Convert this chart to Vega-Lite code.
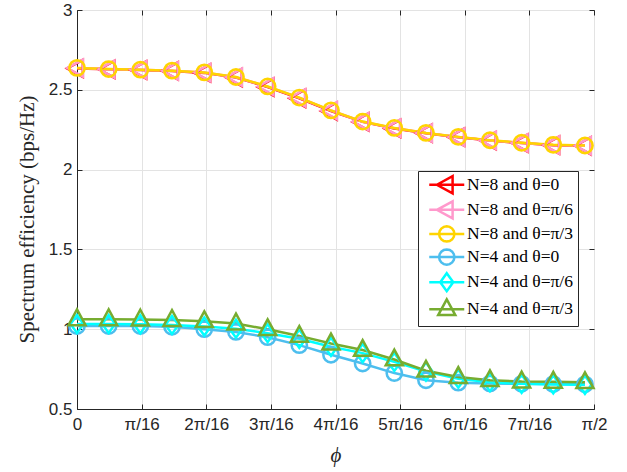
{
  "$schema": "https://vega.github.io/schema/vega-lite/v6.json",
  "width": 517,
  "height": 399,
  "autosize": {"type": "none"},
  "padding": {"left": 77, "top": 10, "right": 33, "bottom": 63},
  "background": "white",
  "config": {
    "view": {"stroke": "#262626", "strokeWidth": 1},
    "axis": {
      "domainColor": "#262626",
      "tickColor": "#262626",
      "labelColor": "#262626",
      "titleColor": "#262626",
      "gridColor": "#e3e3e3",
      "gridWidth": 1,
      "labelFont": "Liberation Sans",
      "labelFontSize": 17
    }
  },
  "data": {
    "values": [
      {"s": "N=8 and θ=0", "phi": 0, "se": 2.634}, {"s": "N=8 and θ=0", "phi": 0.49, "se": 2.628}, {"s": "N=8 and θ=0", "phi": 0.98, "se": 2.624}, {"s": "N=8 and θ=0", "phi": 1.47, "se": 2.618}, {"s": "N=8 and θ=0", "phi": 1.97, "se": 2.606}, {"s": "N=8 and θ=0", "phi": 2.46, "se": 2.577}, {"s": "N=8 and θ=0", "phi": 2.95, "se": 2.517}, {"s": "N=8 and θ=0", "phi": 3.44, "se": 2.447}, {"s": "N=8 and θ=0", "phi": 3.93, "se": 2.367}, {"s": "N=8 and θ=0", "phi": 4.42, "se": 2.299}, {"s": "N=8 and θ=0", "phi": 4.91, "se": 2.258}, {"s": "N=8 and θ=0", "phi": 5.4, "se": 2.228}, {"s": "N=8 and θ=0", "phi": 5.9, "se": 2.203}, {"s": "N=8 and θ=0", "phi": 6.39, "se": 2.182}, {"s": "N=8 and θ=0", "phi": 6.88, "se": 2.166}, {"s": "N=8 and θ=0", "phi": 7.37, "se": 2.153}, {"s": "N=8 and θ=0", "phi": 7.86, "se": 2.149},
      {"s": "N=8 and θ=π/6", "phi": 0, "se": 2.636}, {"s": "N=8 and θ=π/6", "phi": 0.49, "se": 2.629}, {"s": "N=8 and θ=π/6", "phi": 0.98, "se": 2.625}, {"s": "N=8 and θ=π/6", "phi": 1.47, "se": 2.619}, {"s": "N=8 and θ=π/6", "phi": 1.97, "se": 2.608}, {"s": "N=8 and θ=π/6", "phi": 2.46, "se": 2.579}, {"s": "N=8 and θ=π/6", "phi": 2.95, "se": 2.52}, {"s": "N=8 and θ=π/6", "phi": 3.44, "se": 2.45}, {"s": "N=8 and θ=π/6", "phi": 3.93, "se": 2.37}, {"s": "N=8 and θ=π/6", "phi": 4.42, "se": 2.3}, {"s": "N=8 and θ=π/6", "phi": 4.91, "se": 2.26}, {"s": "N=8 and θ=π/6", "phi": 5.4, "se": 2.229}, {"s": "N=8 and θ=π/6", "phi": 5.9, "se": 2.204}, {"s": "N=8 and θ=π/6", "phi": 6.39, "se": 2.183}, {"s": "N=8 and θ=π/6", "phi": 6.88, "se": 2.167}, {"s": "N=8 and θ=π/6", "phi": 7.37, "se": 2.154}, {"s": "N=8 and θ=π/6", "phi": 7.86, "se": 2.15},
      {"s": "N=8 and θ=π/3", "phi": 0, "se": 2.637}, {"s": "N=8 and θ=π/3", "phi": 0.49, "se": 2.63}, {"s": "N=8 and θ=π/3", "phi": 0.98, "se": 2.626}, {"s": "N=8 and θ=π/3", "phi": 1.47, "se": 2.62}, {"s": "N=8 and θ=π/3", "phi": 1.97, "se": 2.609}, {"s": "N=8 and θ=π/3", "phi": 2.46, "se": 2.58}, {"s": "N=8 and θ=π/3", "phi": 2.95, "se": 2.521}, {"s": "N=8 and θ=π/3", "phi": 3.44, "se": 2.451}, {"s": "N=8 and θ=π/3", "phi": 3.93, "se": 2.371}, {"s": "N=8 and θ=π/3", "phi": 4.42, "se": 2.301}, {"s": "N=8 and θ=π/3", "phi": 4.91, "se": 2.261}, {"s": "N=8 and θ=π/3", "phi": 5.4, "se": 2.23}, {"s": "N=8 and θ=π/3", "phi": 5.9, "se": 2.205}, {"s": "N=8 and θ=π/3", "phi": 6.39, "se": 2.184}, {"s": "N=8 and θ=π/3", "phi": 6.88, "se": 2.168}, {"s": "N=8 and θ=π/3", "phi": 7.37, "se": 2.155}, {"s": "N=8 and θ=π/3", "phi": 7.86, "se": 2.151},
      {"s": "N=4 and θ=0", "phi": 0, "se": 1.02}, {"s": "N=4 and θ=0", "phi": 0.49, "se": 1.02}, {"s": "N=4 and θ=0", "phi": 0.98, "se": 1.02}, {"s": "N=4 and θ=0", "phi": 1.47, "se": 1.015}, {"s": "N=4 and θ=0", "phi": 1.97, "se": 1.0}, {"s": "N=4 and θ=0", "phi": 2.46, "se": 0.983}, {"s": "N=4 and θ=0", "phi": 2.95, "se": 0.95}, {"s": "N=4 and θ=0", "phi": 3.44, "se": 0.9}, {"s": "N=4 and θ=0", "phi": 3.93, "se": 0.84}, {"s": "N=4 and θ=0", "phi": 4.42, "se": 0.785}, {"s": "N=4 and θ=0", "phi": 4.91, "se": 0.725}, {"s": "N=4 and θ=0", "phi": 5.4, "se": 0.68}, {"s": "N=4 and θ=0", "phi": 5.9, "se": 0.665}, {"s": "N=4 and θ=0", "phi": 6.39, "se": 0.66}, {"s": "N=4 and θ=0", "phi": 6.88, "se": 0.658}, {"s": "N=4 and θ=0", "phi": 7.37, "se": 0.656}, {"s": "N=4 and θ=0", "phi": 7.86, "se": 0.655},
      {"s": "N=4 and θ=π/6", "phi": 0, "se": 1.033}, {"s": "N=4 and θ=π/6", "phi": 0.49, "se": 1.033}, {"s": "N=4 and θ=π/6", "phi": 0.98, "se": 1.031}, {"s": "N=4 and θ=π/6", "phi": 1.47, "se": 1.027}, {"s": "N=4 and θ=π/6", "phi": 1.97, "se": 1.017}, {"s": "N=4 and θ=π/6", "phi": 2.46, "se": 1.003}, {"s": "N=4 and θ=π/6", "phi": 2.95, "se": 0.975}, {"s": "N=4 and θ=π/6", "phi": 3.44, "se": 0.94}, {"s": "N=4 and θ=π/6", "phi": 3.93, "se": 0.89}, {"s": "N=4 and θ=π/6", "phi": 4.42, "se": 0.85}, {"s": "N=4 and θ=π/6", "phi": 4.91, "se": 0.795}, {"s": "N=4 and θ=π/6", "phi": 5.4, "se": 0.735}, {"s": "N=4 and θ=π/6", "phi": 5.9, "se": 0.69}, {"s": "N=4 and θ=π/6", "phi": 6.39, "se": 0.668}, {"s": "N=4 and θ=π/6", "phi": 6.88, "se": 0.658}, {"s": "N=4 and θ=π/6", "phi": 7.37, "se": 0.654}, {"s": "N=4 and θ=π/6", "phi": 7.86, "se": 0.652},
      {"s": "N=4 and θ=π/3", "phi": 0, "se": 1.062}, {"s": "N=4 and θ=π/3", "phi": 0.49, "se": 1.062}, {"s": "N=4 and θ=π/3", "phi": 0.98, "se": 1.06}, {"s": "N=4 and θ=π/3", "phi": 1.47, "se": 1.057}, {"s": "N=4 and θ=π/3", "phi": 1.97, "se": 1.05}, {"s": "N=4 and θ=π/3", "phi": 2.46, "se": 1.035}, {"s": "N=4 and θ=π/3", "phi": 2.95, "se": 1.0}, {"s": "N=4 and θ=π/3", "phi": 3.44, "se": 0.958}, {"s": "N=4 and θ=π/3", "phi": 3.93, "se": 0.91}, {"s": "N=4 and θ=π/3", "phi": 4.42, "se": 0.87}, {"s": "N=4 and θ=π/3", "phi": 4.91, "se": 0.81}, {"s": "N=4 and θ=π/3", "phi": 5.4, "se": 0.74}, {"s": "N=4 and θ=π/3", "phi": 5.9, "se": 0.7}, {"s": "N=4 and θ=π/3", "phi": 6.39, "se": 0.68}, {"s": "N=4 and θ=π/3", "phi": 6.88, "se": 0.672}, {"s": "N=4 and θ=π/3", "phi": 7.37, "se": 0.67}, {"s": "N=4 and θ=π/3", "phi": 7.86, "se": 0.668}
    ]
  },
  "layer": [
    {
      "mark": {"type": "line", "strokeWidth": 2.5, "clip": false},
      "encoding": {
        "x": {
          "field": "phi", "type": "quantitative",
          "scale": {"domain": [0, 8], "nice": false, "zero": false},
          "axis": {
            "values": [0, 1, 2, 3, 4, 5, 6, 7, 8],
            "labelExpr": "datum.value == 0 ? '0' : datum.value == 1 ? 'π/16' : datum.value == 8 ? 'π/2' : datum.value + 'π/16'",
            "tickSize": -5, "labelPadding": 12, "grid": true,
            "title": "ϕ", "titleFont": "Liberation Serif", "titleFontStyle": "italic", "titleFontWeight": "normal", "titleFontSize": 21, "titlePadding": 12,
            "labelFlush": false
          }
        },
        "y": {
          "field": "se", "type": "quantitative",
          "scale": {"domain": [0.5, 3], "nice": false, "zero": false},
          "axis": {
            "values": [0.5, 1, 1.5, 2, 2.5, 3],
            "format": "~g",
            "tickSize": -5, "labelPadding": 10, "grid": true,
            "title": "Spectrum efficiency (bps/Hz)", "titleFont": "Liberation Serif", "titleFontWeight": "normal", "titleFontSize": 21, "titlePadding": 11, "titleY": 209,
            "labelFlush": false
          }
        },
        "color": {
          "field": "s", "type": "nominal",
          "scale": {
            "domain": ["N=8 and θ=0", "N=8 and θ=π/6", "N=8 and θ=π/3", "N=4 and θ=0", "N=4 and θ=π/6", "N=4 and θ=π/3"],
            "range": ["#ff0000", "#ff99cc", "#ffd400", "#4dbeee", "#00ffff", "#77ac30"]
          },
          "legend": null
        }
      }
    },
    {
      "mark": {"type": "point", "filled": false, "size": 324, "strokeWidth": 2.5, "opacity": 1, "clip": false},
      "encoding": {
        "x": {"field": "phi", "type": "quantitative", "scale": {"domain": [0, 8], "nice": false, "zero": false}, "axis": null},
        "y": {"field": "se", "type": "quantitative", "scale": {"domain": [0.5, 3], "nice": false, "zero": false}, "axis": null},
        "color": {
          "field": "s", "type": "nominal",
          "scale": {
            "domain": ["N=8 and θ=0", "N=8 and θ=π/6", "N=8 and θ=π/3", "N=4 and θ=0", "N=4 and θ=π/6", "N=4 and θ=π/3"],
            "range": ["#ff0000", "#ff99cc", "#ffd400", "#4dbeee", "#00ffff", "#77ac30"]
          },
          "legend": null
        },
        "shape": {
          "field": "s", "type": "nominal",
          "scale": {
            "domain": ["N=8 and θ=0", "N=8 and θ=π/6", "N=8 and θ=π/3", "N=4 and θ=0", "N=4 and θ=π/6", "N=4 and θ=π/3"],
            "range": [
              "M-1.1,0L0.65,-0.95L0.65,0.95Z",
              "M-1.1,0L0.65,-0.95L0.65,0.95Z",
              "M0.85,0L0.785,0.325L0.601,0.601L0.325,0.785L0,0.85L-0.325,0.785L-0.601,0.601L-0.785,0.325L-0.85,0L-0.785,-0.325L-0.601,-0.601L-0.325,-0.785L0,-0.85L0.325,-0.785L0.601,-0.601L0.785,-0.325Z",
              "M0.85,0L0.785,0.325L0.601,0.601L0.325,0.785L0,0.85L-0.325,0.785L-0.601,0.601L-0.785,0.325L-0.85,0L-0.785,-0.325L-0.601,-0.601L-0.325,-0.785L0,-0.85L0.325,-0.785L0.601,-0.601L0.785,-0.325Z",
              "M0,-1L0.72,0L0,1L-0.72,0Z",
              "M0,-1.1L0.95,0.65L-0.95,0.65Z"
            ]
          },
          "legend": null
        }
      }
    },
    {
      "transform": [{"filter": "false"}],
      "mark": {"type": "point", "filled": false, "strokeWidth": 2.5, "opacity": 1},
      "encoding": {
        "x": {"field": "phi", "type": "quantitative", "scale": {"domain": [0, 8], "nice": false, "zero": false},
          "axis": {"orient": "top", "values": [0, 1, 2, 3, 4, 5, 6, 7, 8], "labels": false, "grid": false, "domain": false, "tickSize": -5, "title": null}},
        "y": {"field": "se", "type": "quantitative", "scale": {"domain": [0.5, 3], "nice": false, "zero": false},
          "axis": {"orient": "right", "values": [0.5, 1, 1.5, 2, 2.5, 3], "labels": false, "grid": false, "domain": false, "tickSize": -5, "title": null}},
        "color": {
          "field": "s", "type": "nominal",
          "scale": {
            "domain": ["N=8 and θ=0", "N=8 and θ=π/6", "N=8 and θ=π/3", "N=4 and θ=0", "N=4 and θ=π/6", "N=4 and θ=π/3"],
            "range": ["#ff0000", "#ff99cc", "#ffd400", "#4dbeee", "#00ffff", "#77ac30"]
          },
          "legend": {
            "orient": "none", "legendX": 341, "legendY": 161, "title": null,
            "labelFont": "Liberation Serif", "labelFontSize": 17.5, "labelColor": "#000000",
            "symbolSize": 25, "symbolStrokeWidth": 2.5, "symbolOffset": 15, "labelOffset": 11.5,
            "padding": 5, "rowPadding": -2.9, "strokeColor": "#262626", "fillColor": "white", "labelLimit": 300
          }
        },
        "shape": {
          "field": "s", "type": "nominal",
          "scale": {
            "domain": ["N=8 and θ=0", "N=8 and θ=π/6", "N=8 and θ=π/3", "N=4 and θ=0", "N=4 and θ=π/6", "N=4 and θ=π/3"],
            "range": [
              "M-7,0H7M-3.96,0L2.34,-3.42L2.34,3.42Z",
              "M-7,0H7M-3.96,0L2.34,-3.42L2.34,3.42Z",
              "M-7,0H7M3.06,0L2.826,1.17L2.164,2.164L1.17,2.826L0,3.06L-1.17,2.826L-2.164,2.164L-2.826,1.17L-3.06,0L-2.826,-1.17L-2.164,-2.164L-1.17,-2.826L0,-3.06L1.17,-2.826L2.164,-2.164L2.826,-1.17Z",
              "M-7,0H7M3.06,0L2.826,1.17L2.164,2.164L1.17,2.826L0,3.06L-1.17,2.826L-2.164,2.164L-2.826,1.17L-3.06,0L-2.826,-1.17L-2.164,-2.164L-1.17,-2.826L0,-3.06L1.17,-2.826L2.164,-2.164L2.826,-1.17Z",
              "M-7,0H7M0,-3.6L2.6,0L0,3.6L-2.6,0Z",
              "M-7,0H7M0,-3.96L3.42,2.34L-3.42,2.34Z"
            ]
          },
          "legend": {
            "orient": "none", "legendX": 341, "legendY": 161, "title": null,
            "labelFont": "Liberation Serif", "labelFontSize": 17.5, "labelColor": "#000000",
            "symbolSize": 25, "symbolStrokeWidth": 2.5, "symbolOffset": 15, "labelOffset": 11.5,
            "padding": 5, "rowPadding": -2.9, "strokeColor": "#262626", "fillColor": "white", "labelLimit": 300
          }
        }
      }
    }
  ],
  "resolve": {
    "scale": {"color": "independent", "shape": "independent"},
    "axis": {"x": "independent", "y": "independent"},
    "legend": {"color": "independent", "shape": "independent"}
  }
}
